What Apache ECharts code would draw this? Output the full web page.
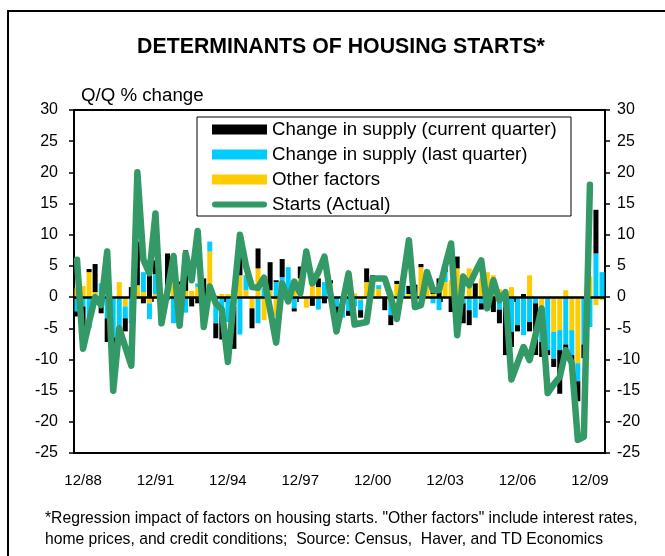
<!DOCTYPE html>
<html>
<head>
<meta charset="utf-8">
<title>Determinants of Housing Starts</title>
<script src="https://cdn.jsdelivr.net/npm/echarts@6/dist/echarts.min.js"></script>
<style>
  html, body { margin: 0; padding: 0; background: #fff; }
  #main { width: 665px; height: 556px; }
</style>
</head>
<body>
<div id="main"></div>
<script>
// quarters, 9/88 .. 6/10
var quarters = [
  '9/88', '12/88',
  '3/89', '6/89', '9/89', '12/89', '3/90', '6/90', '9/90', '12/90',
  '3/91', '6/91', '9/91', '12/91', '3/92', '6/92', '9/92', '12/92',
  '3/93', '6/93', '9/93', '12/93', '3/94', '6/94', '9/94', '12/94',
  '3/95', '6/95', '9/95', '12/95', '3/96', '6/96', '9/96', '12/96',
  '3/97', '6/97', '9/97', '12/97', '3/98', '6/98', '9/98', '12/98',
  '3/99', '6/99', '9/99', '12/99', '3/00', '6/00', '9/00', '12/00',
  '3/01', '6/01', '9/01', '12/01', '3/02', '6/02', '9/02', '12/02',
  '3/03', '6/03', '9/03', '12/03', '3/04', '6/04', '9/04', '12/04',
  '3/05', '6/05', '9/05', '12/05', '3/06', '6/06', '9/06', '12/06',
  '3/07', '6/07', '9/07', '12/07', '3/08', '6/08', '9/08', '12/08',
  '3/09', '6/09', '9/09', '12/09',
  '3/10', '6/10'
];

var supplyCurrent = [
  -0.8, -3.5, 0.5, 4.5, -2.6, -3.8, -1.5, 0, -2.1, 1.6,
  7, -1, 3.5, 2.2, 0, 6, 0, 0.5, 6.5, -1.5,
  -1, 3, 0, -2.4, -3.7, 0, -6.7, 4.6, 0, -3.2,
  3.2, 0, 4.5, 0.3, 2.9, 0, -0.5, 1.9, 0, -1.4,
  1.4, -1, 0.5, -3.2, 0, -0.8, 0, -1.2, 2.2, 1.1,
  0, -2.1, -1.6, 0.5, 0, 1.3, 2, 0.5, 0, 1,
  3, 0.9, -2.4, 1.9, -3.2, -2.4, 2.2, -1, 0, -2.4,
  -2.2, -7.8, -2.4, -1, 0.5, -1.5, -8.3, -2.4, -0.8, -1.3,
  -7, -1.5, -2, -3.2, -2.2, 0, 7, 0
];

var supplyLast = [
  -2.3, -1.5, -5, 0, 2.2, -3.4, -6.5, -4.7, -1.9, -4.2,
  -0.3, 3.2, -2.5, 3.2, -4.2, -0.5, -4.2, -1, -2.5, 0,
  0.6, -2, 1.6, -4.2, -3.1, -4, -1.6, -6, 2.4, 0,
  -4.2, 1.4, 0, 2.4, 3.2, 4.8, -1.8, 0, 0, 0,
  -2, 2.4, 0, -1.5, -2.6, -2.2, -1.5, -1.6, 0, 0.8,
  0.6, 0, -2.9, 0, 2, 0, -1.6, 0, 1.2, -1,
  -2.1, 1.6, 0, 0, -1, -2.1, -3.3, -1, -2, 0,
  -2, -1.5, -5.6, -4.5, -6.1, -4, -1, -2.4, -8.5, -4.3,
  -3.2, -7.6, -4, -2.9, -7.6, -4.8, 7, 4
];

var otherFactors = [
  1.4, 1.8, 4, 0.8, 0, 0, 0, 2.4, -1.5, 0,
  1.9, 0.8, -1, 0.5, 0.5, 1, 3.5, 2, 1, 1,
  1.6, 0, 7.3, 0.3, 0.5, 0.5, 1.4, 3.5, 1.1, -1.8,
  4.6, -3.7, 1.1, -3, 0, 0, 1.1, 3, -1.7, 2.7,
  1.6, 0, 2.2, 0, -0.7, 0, 0.6, -0.5, 2.4, 1.6,
  1.3, 0, 1, 2.1, 0, 0.5, 0, 4.8, 3.2, 0.5,
  0, 2.4, 2.7, 4.6, 0, 4.6, 0, 3, 4, 3.5,
  1.3, 1, 1.6, 0, 0, 3.5, 0, -4.8, 0, -5.6,
  -5.3, 1.1, -5.3, -10.6, 0, 3.3, -1.3, -0.5
];

var startsActual = [
  6, -8.3, -4, 0, -1.3, 7.3, -15, -5, -8, -11,
  20, 6, 3.8, 13.4, -4.2, 1, 6.6, -4.6, 7, 2.7,
  10.6, -4.8, 1.7, -1, -2, -10.4, 0, 10, 5, 1.6,
  1.5, 3.1, -2, -7.3, 2.2, -0.7, 2.5, 0.6, 7.3, 2.2,
  4, 6.5, 0.5, -5.5, -1, 3.8, -4.4, -4.2, -4, 3,
  3, 3, 0, -3.5, 2.5, 9.1, -1.6, -1.3, 4, 1.1,
  1.1, 5, 8.6, -6.1, 3.3, 1.9, 4, 5.9, -1.8, 2.7,
  -0.5, 0.8, -13.2, -10.6, -8, -10.1, -6, -1.8, -15.4, -14,
  -12.8, -8.5, -10.6, -22.9, -22.4, 18, null, null
];

var seriesNames = [
  'Change in supply (current quarter)',
  'Change in supply (last quarter)',
  'Other factors',
  'Starts (Actual)'
];

var font = '"Liberation Sans", Arial, Helvetica, sans-serif';

// legend box is wider than its text, pad the right side to match
var ctx = document.createElement('canvas').getContext('2d');
ctx.font = '18.7px ' + font;
var longest = ctx.measureText(seriesNames[0]).width;
var padRight = Math.max(4, 374 - 15 - 55 - 5 - longest);

// thick rounded stroke for the line entry (two moveTo's fix the 55x10 box)
var lineIcon = 'path://M0,0 M55,10 M3,2 L52,2 A3,3 0 0 1 52,8 L3,8 A3,3 0 0 1 3,2 Z';

var myChart = echarts.init(document.getElementById('main'), null, { renderer: 'canvas' });

// labels only on the 12/xx quarters three years apart
function everyThreeYears(idx) {
  return (idx - 1) % 12 === 0;
}

var option = {
  animation: false,
  textStyle: { fontFamily: font, color: '#000' },
  grid: {
    left: 74, right: 60, top: 110, bottom: 103,
    show: true, borderColor: '#000', borderWidth: 2, backgroundColor: 'transparent'
  },
  legend: {
    orient: 'vertical',
    left: 197, top: 117,
    padding: [3, padRight, 2, 15],
    itemGap: 6,
    itemWidth: 55, itemHeight: 10,
    borderColor: '#000', borderWidth: 1,
    backgroundColor: '#fff',
    textStyle: { fontSize: 18.7, color: '#000', fontFamily: font, lineHeight: 19 },
    data: [
      { name: seriesNames[0], icon: 'rect' },
      { name: seriesNames[1], icon: 'rect' },
      { name: seriesNames[2], icon: 'rect' },
      { name: seriesNames[3], icon: lineIcon }
    ]
  },
  xAxis: [
    {
      type: 'category',
      data: quarters,
      position: 'bottom',
      z: 3,
      axisLine: { onZero: true, lineStyle: { color: '#000', width: 2.5 } },
      axisTick: { show: true, interval: everyThreeYears, length: 5, lineStyle: { color: '#000', width: 1.5 } },
      axisLabel: { show: false },
      splitLine: { show: false }
    },
    {
      type: 'category',
      data: quarters,
      position: 'bottom',
      axisLine: { show: false, onZero: false },
      axisTick: { show: false },
      axisLabel: { interval: everyThreeYears, fontSize: 15, color: '#000', margin: 20, fontFamily: font },
      splitLine: { show: false }
    }
  ],
  yAxis: [
    {
      type: 'value',
      min: -25, max: 30, interval: 5,
      position: 'left',
      name: 'Q/Q % change',
      nameLocation: 'end',
      nameGap: 5,
      nameTextStyle: { fontSize: 18.7, color: '#000', align: 'left', padding: [0, 0, 0, 7], fontFamily: font },
      axisLine: { show: true, lineStyle: { color: '#000', width: 2 } },
      axisTick: { show: true, length: 5, lineStyle: { color: '#000', width: 1.5 } },
      axisLabel: { fontSize: 16, color: '#000', margin: 16, fontFamily: font },
      splitLine: { show: false }
    },
    {
      type: 'value',
      min: -25, max: 30, interval: 5,
      position: 'right',
      axisLine: { show: true, lineStyle: { color: '#000', width: 2 } },
      axisTick: { show: true, length: 5, lineStyle: { color: '#000', width: 1.5 } },
      axisLabel: { fontSize: 16, color: '#000', margin: 12, fontFamily: font },
      splitLine: { show: false }
    }
  ],
  series: [
    {
      name: seriesNames[2],
      type: 'bar',
      stack: 'fac',
      barWidth: 5,
      itemStyle: { color: '#FFCC00' },
      data: otherFactors
    },
    {
      name: seriesNames[1],
      type: 'bar',
      stack: 'fac',
      barWidth: 5,
      itemStyle: { color: '#00CCFF' },
      data: supplyLast
    },
    {
      name: seriesNames[0],
      type: 'bar',
      stack: 'fac',
      barWidth: 5,
      itemStyle: { color: '#000000' },
      data: supplyCurrent
    },
    {
      name: seriesNames[3],
      type: 'line',
      z: 5,
      symbol: 'none',
      connectNulls: false,
      lineStyle: { color: '#339966', width: 6.5, cap: 'round', join: 'round' },
      itemStyle: { color: '#339966' },
      data: startsActual
    }
  ],
  graphic: [
    {
      type: 'rect',
      silent: true,
      shape: { x: 8, y: 11, width: 700, height: 600 },
      style: { fill: 'none', stroke: '#000', lineWidth: 2 }
    },
    {
      type: 'text',
      style: {
        x: 341, y: 47,
        text: 'DETERMINANTS OF HOUSING STARTS*',
        textAlign: 'center', textVerticalAlign: 'middle',
        font: 'bold 21.3px ' + font, fill: '#000'
      }
    },
    {
      type: 'text',
      style: {
        x: 45, y: 508,
        text: '*Regression impact of factors on housing starts. "Other factors" include interest rates,\nhome prices, and credit conditions;  Source: Census,  Haver, and TD Economics',
        textAlign: 'left', textVerticalAlign: 'top',
        font: '15.7px ' + font, lineHeight: 21, fill: '#000'
      }
    }
  ]
};

myChart.setOption(option);
</script>
</body>
</html>
